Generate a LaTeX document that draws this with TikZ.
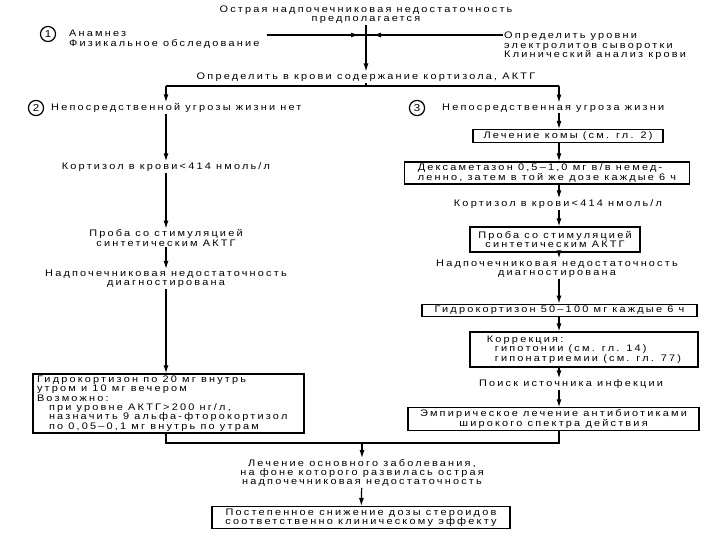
\documentclass[tikz,border=0pt]{standalone}
\usepackage{fontspec}
\usepackage{tikz}
\usetikzlibrary{arrows.meta}

\newfontfamily\rufam[Ligatures=TeX,LetterSpace=23,FakeStretch=1.15]{Liberation Sans}
\newcommand{\rutext}{\rufam\fontsize{9.5}{9.3}\selectfont}

\tikzset{
  txt/.style={align=center, inner sep=1pt, font=\rutext},
  box/.style={draw, line width=1.2pt, align=center, inner xsep=4pt, inner ysep=2pt, font=\rutext},
  num/.style={draw, circle, line width=1.2pt, inner sep=2pt, minimum size=14pt, font=\rufam\fontsize{10}{10}\selectfont},
  arr/.style={-{Latex[length=8pt,width=5pt]}, line width=1.2pt},
  ln/.style={line width=1.2pt}
}

\begin{document}
\begin{tikzpicture}[x=1pt, y=-1pt]
\useasboundingbox (0,0) rectangle (720,540);

% top part
\node[txt] (title) at (366,14.5) {Острая надпочечниковая недостаточность\\предполагается};
\node[num] (c1) at (48,34) {1};
\node[txt, align=left, anchor=north west] (anam) at (68,29) {Анамнез\\Физикальное обследование};
\node[txt, align=left, anchor=north west] (elec) at (503,31) {Определить уровни\\электролитов сыворотки\\Клинический анализ крови};
\coordinate (cross) at (366,35);
\node[txt] (krov) at (366,77) {Определить в крови содержание кортизола, АКТГ};

\draw[ln, shorten <=6pt] (anam.east |- cross) -- (cross);
\draw[arr, shorten <=6pt, shorten >=7pt] (anam.east |- cross) -- (cross);
\draw[ln] (elec.west |- cross) -- (cross);
\draw[arr, shorten >=7pt] (elec.west |- cross) -- (cross);
\draw[arr] (title) -- (krov);

% split
\coordinate (jC) at (366,86);
\coordinate (jL) at (166,86);
\coordinate (jR) at (559,86);
\draw[ln] (krov) -- (jC);
\draw[ln] (jL) -- (jR);

% left branch
\node[num] (c2) at (36,108) {2};
\node[txt, anchor=west] (n2) at (50,108) {Непосредственной угрозы жизни нет};
\node[txt] (kortL) at (166,167) {Кортизол в крови<414 нмоль/л};
\node[txt] (probaL) at (166,238) {Проба со стимуляцией\\синтетическим АКТГ};
\node[txt] (nadL) at (166,279) {Надпочечниковая недостаточность\\диагностирована};
\node[box, align=left, minimum height=59pt] (hydL) at (168.5,403.5) {\makebox[263pt][l]{Гидрокортизон по 20 мг внутрь}\\утром и 10 мг вечером\\Возможно:\\\hspace*{12pt}при уровне АКТГ>200 нг/л,\\\hspace*{12pt}назначить 9 альфа-фторокортизол\\\hspace*{12pt}по 0,05--0,1 мг внутрь по утрам};

\draw[arr] (jL) -- (jL |- n2.north);
\draw[arr] (jL |- n2.south) -- (kortL);
\draw[arr] (kortL) -- (probaL);
\draw[arr] (probaL) -- (nadL);
\draw[arr] (nadL.south -| jL) -- (hydL.north -| jL);

% right branch
\node[num] (c3) at (417,108) {3};
\node[txt, anchor=west] (n3) at (441,108) {Непосредственная угроза жизни};
\node[box, minimum width=190pt, minimum height=12pt] (koma) at (568,136) {Лечение комы (см. гл. 2)};
\node[box, align=left, minimum width=285pt] (dexa) at (547,173) {Дексаметазон 0,5--1,0 мг в/в немед-\\ленно, затем в той же дозе каждые 6 ч};
\node[txt] (kortR) at (558,204) {Кортизол в крови<414 нмоль/л};
\node[box, minimum width=170pt, minimum height=25pt] (probaR) at (555,239.5) {Проба со стимуляцией\\синтетическим АКТГ};
\node[txt] (nadR) at (557,268.5) {Надпочечниковая недостаточность\\диагностирована};
\node[box, minimum width=275pt, minimum height=11pt] (gidR) at (559.5,310.5) {Гидрокортизон 50--100 мг каждые 6 ч};
\node[box, align=left, minimum width=228pt, minimum height=35pt] (korr) at (584,349.5) {Коррекция:\\\hspace*{8pt}гипотонии (см. гл. 14)\\\hspace*{8pt}гипонатриемии (см. гл. 77)};
\node[txt] (poisk) at (571,384) {Поиск источника инфекции};
\node[box, minimum width=291pt, minimum height=22pt] (empir) at (553.5,419) {Эмпирическое лечение антибиотиками\\широкого спектра действия};

\draw[arr] (jR) -- (jR |- n3.north);
\draw[arr] (n3.south -| jR) -- (koma.north -| jR);
\draw[arr] (koma.south -| jR) -- (dexa.north -| jR);
\draw[arr] (dexa.south -| jR) -- (kortR.north -| jR);
\draw[arr] (kortR.south -| jR) -- (probaR.north -| jR);
\draw[arr] (probaR.south -| jR) -- (nadR.north -| jR);
\draw[arr] (nadR.south -| jR) -- (gidR.north -| jR);
\draw[arr] (gidR.south -| jR) -- (korr.north -| jR);
\draw[arr] (korr.south -| jR) -- (poisk.north -| jR);
\draw[arr] (poisk.south -| jR) -- (empir.north -| jR);

% merge
\coordinate (mL) at (166,443);
\coordinate (mC) at (362,443);
\coordinate (mR) at (559,443);
\node[txt] (lech) at (362,473) {Лечение основного заболевания,\\на фоне которого развилась острая\\надпочечниковая недостаточность};
\node[box, minimum width=298pt, minimum height=21pt] (fin) at (361,517.5) {Постепенное снижение дозы стероидов\\соответственно клиническому эффекту};

\draw[ln] (hydL.south -| mL) -- (mL) -- (mR) -- (empir.south -| mR);
\draw[arr] (mC) -- (lech);
\draw[arr] (lech) -- (fin);
\end{tikzpicture}
\end{document}
